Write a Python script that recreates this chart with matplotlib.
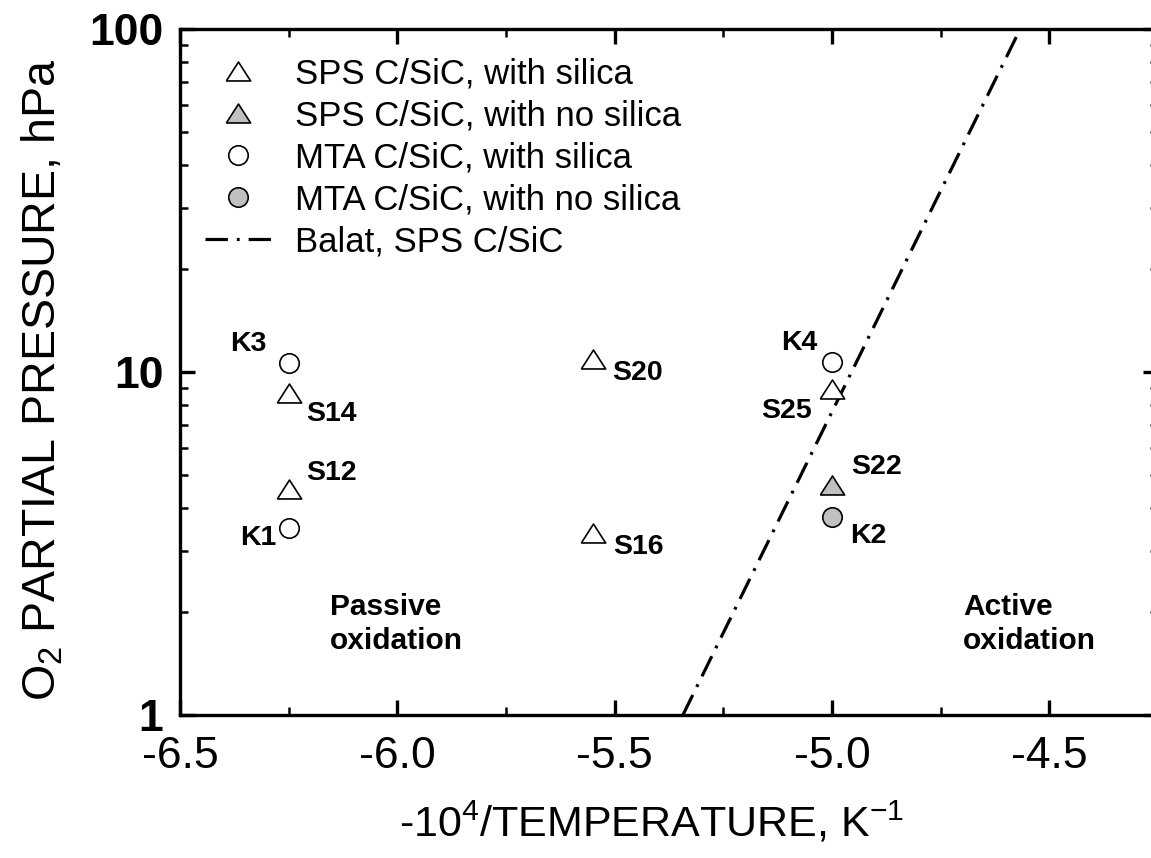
import numpy as np
import matplotlib
matplotlib.use("Agg")
import matplotlib.pyplot as plt
from matplotlib.ticker import LogLocator, NullFormatter, FixedLocator, FormatStrFormatter

plt.rcParams['font.family'] = ['Liberation Sans', 'DejaVu Sans']
plt.rcParams['mathtext.fontset'] = 'custom'
plt.rcParams['mathtext.rm'] = 'Liberation Sans'
plt.rcParams['mathtext.it'] = 'Liberation Sans:italic'
plt.rcParams['mathtext.bf'] = 'Liberation Sans:bold'

# ---- data ----
sps_silica_x = [-6.25, -6.25, -5.55, -5.55, -5.0]
sps_silica_y = [8.7, 4.55, 10.9, 3.4, 8.95]
sps_silica_labels = ['S14', 'S12', 'S20', 'S16', 'S25']

sps_nosilica_x = [-5.0]
sps_nosilica_y = [4.67]
sps_nosilica_labels = ['S22']

mta_silica_x = [-6.25, -6.25, -5.0]
mta_silica_y = [10.6, 3.5, 10.7]
mta_silica_labels = ['K3', 'K1', 'K4']

mta_nosilica_x = [-5.0]
mta_nosilica_y = [3.78]
mta_nosilica_labels = ['K2']

balat_x = [-5.343, -4.567]
balat_y = [1.0, 100.0]

x_ticks = [-6.5, -6.0, -5.5, -5.0, -4.5]
y_ticks = [1, 10, 100]

# label offsets (pixels)
label_offsets = {
    'K3': (-40, 19), 'S14': (43, -21), 'S12': (43, 16), 'K1': (-30, -10),
    'S20': (45, -14), 'S16': (45, -14), 'K4': (-33, 19), 'S25': (-45, -22),
    'S22': (45, 18), 'K2': (36, -19),
}

W, H = 1151, 858
fig = plt.figure(figsize=(W / 100, H / 100), dpi=100)
ax_l, ax_r, ax_t, ax_b = 180, 1158, 29, 715
ax = fig.add_axes([ax_l / W, (H - ax_b) / H, (ax_r - ax_l) / W, (ax_b - ax_t) / H])

tri = [(-1, -0.78), (1, -0.78), (0, 0.78), (-1, -0.78)]
gray = '#c0c0c0'
tri_ms = 17.5
circ_ms = 14
mew = 1.2

ax.plot(sps_silica_x, sps_silica_y, linestyle='none', marker=tri, ms=tri_ms,
        mfc='white', mec='black', mew=mew, label='SPS C/SiC, with silica', zorder=3)
ax.plot(sps_nosilica_x, sps_nosilica_y, linestyle='none', marker=tri, ms=tri_ms,
        mfc=gray, mec='black', mew=mew, label='SPS C/SiC, with no silica', zorder=3)
ax.plot(mta_silica_x, mta_silica_y, linestyle='none', marker='o', ms=circ_ms,
        mfc='white', mec='black', mew=mew, label='MTA C/SiC, with silica', zorder=3)
ax.plot(mta_nosilica_x, mta_nosilica_y, linestyle='none', marker='o', ms=circ_ms,
        mfc=gray, mec='black', mew=mew, label='MTA C/SiC, with no silica', zorder=3)
ax.plot(balat_x, balat_y, color='black', lw=2.3, linestyle=(0, (7.0, 2.8, 0.9, 2.8)),
        label='Balat, SPS C/SiC', zorder=2)

for xs, ys, labs in [(sps_silica_x, sps_silica_y, sps_silica_labels),
                     (sps_nosilica_x, sps_nosilica_y, sps_nosilica_labels),
                     (mta_silica_x, mta_silica_y, mta_silica_labels),
                     (mta_nosilica_x, mta_nosilica_y, mta_nosilica_labels)]:
    for x, y, lab in zip(xs, ys, labs):
        ax.annotate(lab, (x, y), xytext=label_offsets[lab], textcoords='offset pixels',
                    ha='center', va='center', fontsize=20.5, fontweight='bold')

ax.text(-6.155, 1.84, 'Passive\noxidation', fontsize=21.5, fontweight='bold',
        ha='left', va='center', linespacing=1.25)
ax.text(-4.698, 1.84, 'Active\noxidation', fontsize=21.5, fontweight='bold',
        ha='left', va='center', linespacing=1.25)

ax.set_yscale('log')
ax.set_xlim(-6.5, -4.25)
ax.set_ylim(1, 100)
ax.xaxis.set_major_locator(FixedLocator(x_ticks))
ax.xaxis.set_minor_locator(FixedLocator([-6.25, -5.75, -5.25, -4.75, -4.25]))
ax.xaxis.set_major_formatter(FormatStrFormatter('%.1f'))
ax.yaxis.set_major_locator(FixedLocator(y_ticks))
ax.yaxis.set_minor_locator(LogLocator(base=10, subs=np.arange(2, 10)))
ax.yaxis.set_minor_formatter(NullFormatter())
ax.set_yticklabels([str(v) for v in y_ticks], fontweight='bold')

for s in ax.spines.values():
    s.set_linewidth(2.4)
ax.tick_params(which='major', direction='in', length=11, width=2.4, top=True, right=True)
ax.tick_params(which='minor', direction='in', length=6, width=1.8, top=True, right=True)
ax.tick_params(axis='x', which='major', labelsize=32, pad=15)
ax.tick_params(axis='y', which='major', labelsize=32, pad=12)

ax.set_xlabel('-10$^4$/TEMPERATURE, K$^{-1}$', fontsize=31, va='baseline')
ax.xaxis.set_label_coords((652 - ax_l) / (ax_r - ax_l), (ax_b - 837) / (ax_b - ax_t))
ax.set_ylabel('O$_2$ PARTIAL PRESSURE, hPa', fontsize=33.5, va='baseline', ha='center')
ax.yaxis.set_label_coords((56 - ax_l) / (ax_r - ax_l), (ax_b - 380) / (ax_b - ax_t))

ax.legend(loc='upper left', bbox_to_anchor=((205 - ax_l) / (ax_r - ax_l), 1 - (57 - ax_t) / (ax_b - ax_t)),
          frameon=False, fontsize=25, handlelength=1.9, handletextpad=0.7,
          labelspacing=0.26, borderpad=0, borderaxespad=0)

fig.savefig('out.png', dpi=100)
